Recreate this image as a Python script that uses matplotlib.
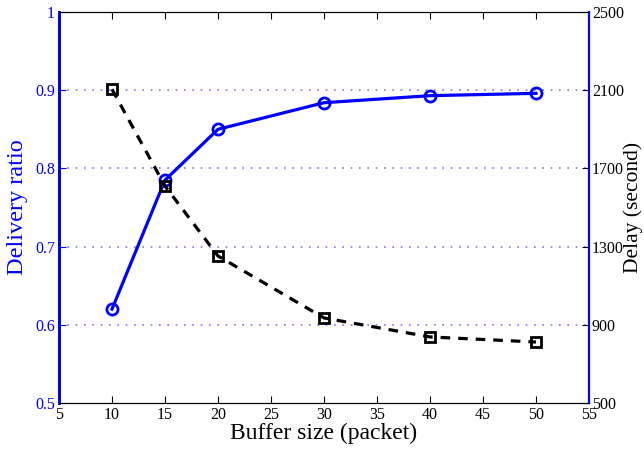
import matplotlib
matplotlib.use("Agg")
import matplotlib.pyplot as plt

plt.rcParams['font.family'] = ['Liberation Serif', 'DejaVu Serif']
plt.rcParams['mathtext.fontset'] = 'stix'

######### Data #########
buffer_size = [10, 15, 20, 30, 40, 50]
delivery_ratio = [0.620, 0.785, 0.850, 0.884, 0.893, 0.896]
delay = [2105, 1610, 1252, 935, 838, 812]
left_ticks = [0.5, 0.6, 0.7, 0.8, 0.9, 1]
left_labels = ['0.5', '0.6', '0.7', '0.8', '0.9', '1']
right_ticks = [500, 900, 1300, 1700, 2100, 2500]
x_ticks = [5, 10, 15, 20, 25, 30, 35, 40, 45, 50, 55]
########################

blue = "#0000FF"

fig = plt.figure(figsize=(6.44, 4.51), dpi=100)
ax = fig.add_axes([0.0916, 0.1064, 0.823, 0.867])
ax2 = ax.twinx()

ax.plot(buffer_size, delivery_ratio, color=blue, lw=2.3, marker='o', ms=8,
        mfc='none', mec=blue, mew=2, zorder=3)
ax2.plot(buffer_size, delay, color='black', lw=2.3, ls=(0, (3, 2.5)),
         marker='s', ms=7, mfc='none', mec='black', mew=2, zorder=3)

ax.set_xlim(5, 55)
ax.set_ylim(0.5, 1)
ax2.set_ylim(500, 2500)
ax.set_xticks(x_ticks)
ax.set_yticks(left_ticks)
ax.set_yticklabels(left_labels)
ax2.set_yticks(right_ticks)

# dotted grid at the inner y levels
for y in left_ticks[1:-1]:
    ax.axhline(y, color='#7777ff', lw=1.2, ls=(0, (1, 4)), zorder=1)

ax.tick_params(axis='both', direction='in', labelsize=11.5, length=5, top=True, pad=3)
ax.tick_params(axis='y', colors=blue, labelcolor=blue)
ax.tick_params(axis='x', colors='black')
ax2.tick_params(axis='y', direction='in', labelsize=11.5, length=5, colors='black', pad=2)

for a in (ax, ax2):
    a.spines['left'].set_color(blue)
    a.spines['right'].set_color(blue)
    a.spines['left'].set_linewidth(2)
    a.spines['right'].set_linewidth(1.5)
    a.spines['top'].set_color('black')
    a.spines['bottom'].set_color('black')

ax.set_xlabel("Buffer size (packet)", fontsize=17, labelpad=0)
ax.set_ylabel("Delivery ratio", fontsize=17.5, color=blue, labelpad=5)
ax2.set_ylabel("Delay (second)", fontsize=15.5, color='black')
ax2.yaxis.set_label_coords(1.064, 0.5)

fig.savefig("out.png", dpi=100)
